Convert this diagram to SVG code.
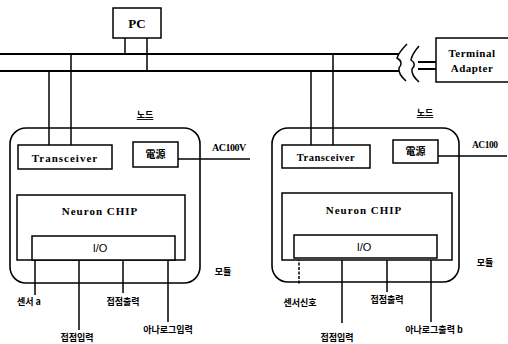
<svg xmlns="http://www.w3.org/2000/svg" width="508" height="344" viewBox="0 0 508 344">
<style>
.box{fill:#fff;stroke:#000;stroke-width:1.5}
.node{fill:none;stroke:#000;stroke-width:1.6}
.ln{fill:none;stroke:#000;stroke-width:1.5}
.bus{fill:none;stroke:#000;stroke-width:2}
.en{font-family:"Liberation Serif",serif;font-weight:bold;fill:#000}
.ko{font-family:"Noto Sans CJK KR",sans-serif;font-weight:bold;fill:#000;font-size:9px}
.hz{font-family:"Noto Sans CJK KR",sans-serif;font-weight:bold;fill:#000;font-size:10px}
</style>
<rect width="508" height="344" fill="#fff"/>
<g id="connectors">
<line class="bus" x1="0" y1="54" x2="399" y2="54"/>
<line class="bus" x1="0" y1="71" x2="399" y2="71"/>
<line class="bus" x1="418" y1="62" x2="436" y2="62"/>
<line class="bus" x1="418" y1="69" x2="436" y2="69"/>
<path class="ln" d="M407,44 Q399,52 397,58 Q404,62 399,68 Q398,74 406,81"/>
<path class="ln" d="M419,46 Q412,54 411,60 Q417,64 412,69 Q411,75 419,82"/>
<line class="ln" x1="125" y1="38" x2="125" y2="54"/>
<line class="ln" x1="147" y1="38" x2="147" y2="71"/>
<line class="ln" x1="49" y1="71" x2="49" y2="145"/>
<line class="ln" x1="71" y1="54" x2="71" y2="145"/>
<line class="ln" x1="311" y1="71" x2="311" y2="145"/>
<line class="ln" x1="333" y1="54" x2="333" y2="145"/>
<line class="ln" x1="178" y1="159" x2="250" y2="159"/>
<line class="ln" x1="438" y1="156" x2="507" y2="156"/>
<line class="ln" x1="35" y1="260" x2="35" y2="295"/>
<line class="ln" x1="79" y1="260" x2="79" y2="330"/>
<line class="ln" x1="123" y1="260" x2="123" y2="293"/>
<line class="ln" x1="168" y1="260" x2="168" y2="322"/>
<line class="ln" x1="299" y1="258" x2="299" y2="284" stroke-dasharray="3,1.5"/>
<line class="ln" x1="342" y1="258" x2="342" y2="323"/>
<line class="ln" x1="387" y1="258" x2="387" y2="292"/>
<line class="ln" x1="431" y1="258" x2="431" y2="322"/>
</g>
<g id="pc">
<rect class="box" x="113" y="8" width="48" height="30"/>
<text class="en" x="137" y="28" font-size="13" text-anchor="middle">PC</text>
</g>
<g id="terminal-adapter">
<rect class="box" x="436" y="38" width="74" height="44"/>
<text class="en" x="472" y="57" font-size="11" text-anchor="middle" letter-spacing="0.5">Terminal</text>
<text class="en" x="472" y="72" font-size="11" text-anchor="middle" letter-spacing="0.5">Adapter</text>
</g>
<g id="node-left">
<rect class="node" x="10" y="128" width="190" height="155" rx="16"/>
<text class="ko" x="145" y="118" text-anchor="middle" text-decoration="underline">노드</text>
<g id="transceiver-left">
<rect class="box" x="18" y="145" width="94" height="24"/>
<text class="en" x="65" y="162" font-size="11" text-anchor="middle" letter-spacing="1">Transceiver</text>
</g>
<g id="power-left">
<rect class="box" x="133" y="142" width="45" height="25"/>
<text class="hz" x="155.5" y="158" text-anchor="middle">電源</text>
</g>
<text class="en" x="212" y="151" font-size="10" letter-spacing="-0.5">AC100V</text>
<g id="neuron-left">
<rect class="box" x="17" y="195" width="168" height="65"/>
<text class="en" x="100" y="215" font-size="11" text-anchor="middle" letter-spacing="1">Neuron CHIP</text>
<rect class="box" x="32" y="236" width="143" height="24"/>
<text x="100" y="252" font-family="Liberation Sans,sans-serif" font-size="11" text-anchor="middle">I/O</text>
</g>
<text class="ko" x="223" y="275" text-anchor="middle">모듈</text>
<text class="ko" x="17" y="305">센서 a</text>
<text class="ko" x="123" y="305" text-anchor="middle">접점출력</text>
<text class="ko" x="77" y="341" text-anchor="middle">접점입력</text>
<text class="ko" x="168" y="333" text-anchor="middle">아나로그입력</text>
</g>
<g id="node-right">
<rect class="node" x="272" y="128" width="187" height="154" rx="16"/>
<text class="ko" x="425" y="116" text-anchor="middle" text-decoration="underline">노드</text>
<g id="transceiver-right">
<rect class="box" x="282" y="145" width="88" height="23"/>
<text class="en" x="326" y="161" font-size="10.5" text-anchor="middle" letter-spacing="0.5">Transceiver</text>
</g>
<g id="power-right">
<rect class="box" x="393" y="140" width="45" height="23"/>
<text class="hz" x="415.5" y="155" text-anchor="middle">電源</text>
</g>
<text class="en" x="472" y="148" font-size="9.5" letter-spacing="-0.5">AC100</text>
<g id="neuron-right">
<rect class="box" x="282" y="193" width="170" height="67"/>
<text class="en" x="364" y="214" font-size="11" text-anchor="middle" letter-spacing="1">Neuron CHIP</text>
<rect class="box" x="294" y="235" width="143" height="23"/>
<text x="364" y="251" font-family="Liberation Sans,sans-serif" font-size="11" text-anchor="middle">I/O</text>
</g>
<text class="ko" x="485" y="266" text-anchor="middle">모듈</text>
<text class="ko" x="300" y="306" text-anchor="middle">센서신호</text>
<text class="ko" x="387" y="303" text-anchor="middle">접점출력</text>
<text class="ko" x="337" y="341" text-anchor="middle">접점입력</text>
<text class="ko" x="434" y="333" text-anchor="middle">아나로그출력 b</text>
</g>
</svg>
